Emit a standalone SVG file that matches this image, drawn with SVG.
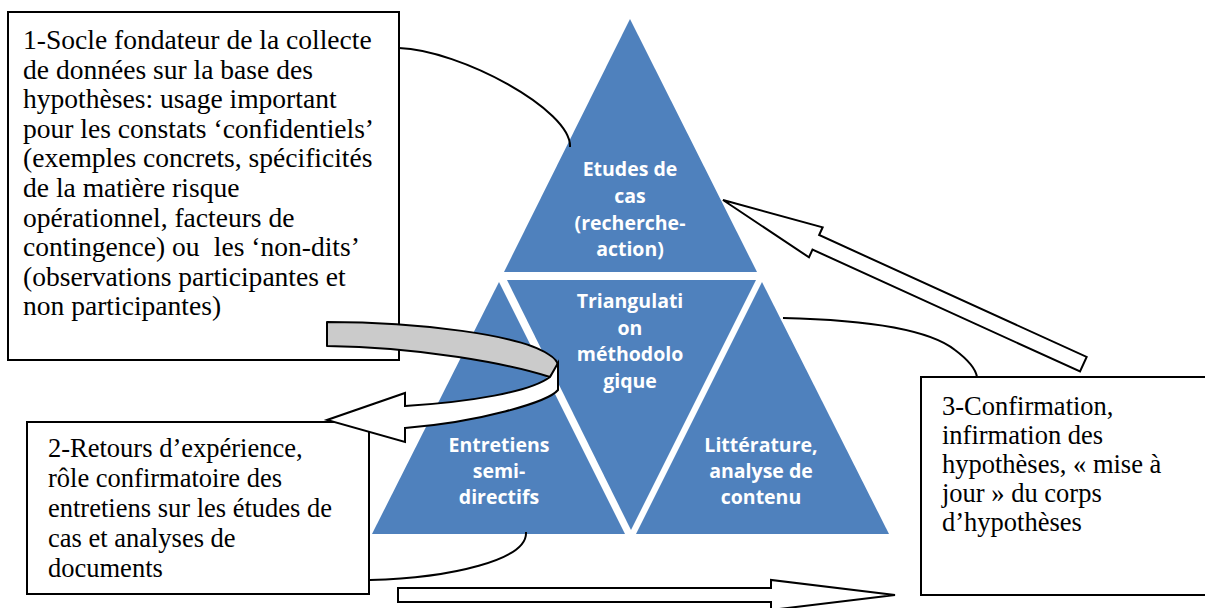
<svg xmlns="http://www.w3.org/2000/svg" width="1205" height="608" viewBox="0 0 1205 608">
<style>
.box{fill:#fff;stroke:#000;stroke-width:2}
.bt{font-family:"Liberation Serif","Times New Roman",serif;fill:#000;font-size:26.5px}
.tri{fill:#4F81BD}
.tt{font-family:"Open Sans","Liberation Sans",sans-serif;font-weight:700;font-size:19.5px;fill:#fff;text-anchor:middle}
.con{fill:none;stroke:#000;stroke-width:2}
.blk{fill:#fff;stroke:#000;stroke-width:2;stroke-linejoin:miter}
</style>
<rect width="1205" height="608" fill="#fff"/>
<g id="box1">
<rect class="box" x="8" y="12" width="391" height="348"/>
<g transform="translate(23 0) scale(1.04 1)">
<text class="bt">
<tspan x="0" y="49">1-Socle fondateur de la collecte</tspan>
<tspan x="0" y="78.6">de données sur la base des</tspan>
<tspan x="0" y="108.2">hypothèses: usage important</tspan>
<tspan x="0" y="137.8">pour les constats ‘confidentiels’</tspan>
<tspan x="0" y="167.4">(exemples concrets, spécificités</tspan>
<tspan x="0" y="197">de la matière risque</tspan>
<tspan x="0" y="226.6">opérationnel, facteurs de</tspan>
<tspan x="0" y="256.2">contingence) ou <tspan dx="7">les ‘non-dits’</tspan></tspan>
<tspan x="0" y="285.8">(observations participantes et</tspan>
<tspan x="0" y="315.4">non participantes)</tspan>
</text>
</g>
</g>
<g id="box2">
<rect class="box" x="27" y="422" width="342" height="172"/>
<text class="bt">
<tspan x="48" y="457">2-Retours d’expérience,</tspan>
<tspan x="48" y="487">rôle confirmatoire des</tspan>
<tspan x="48" y="517">entretiens sur les études de</tspan>
<tspan x="48" y="547">cas et analyses de</tspan>
<tspan x="48" y="577">documents</tspan>
</text>
</g>
<g id="box3">
<rect class="box" x="921" y="377" width="300" height="218"/>
<text class="bt">
<tspan x="942" y="415">3-Confirmation,</tspan>
<tspan x="942" y="444">infirmation des</tspan>
<tspan x="942" y="473">hypothèses, « mise à</tspan>
<tspan x="942" y="502">jour » du corps</tspan>
<tspan x="942" y="531">d’hypothèses</tspan>
</text>
</g>
<g id="tri-top">
<polygon class="tri" points="630,19 504,272 757,272"/>
<text class="tt"><tspan x="630" y="176">Etudes de</tspan><tspan x="630" y="203">cas</tspan><tspan x="630" y="230">(recherche-</tspan><tspan x="630" y="256">action)</tspan></text>
</g>
<g id="tri-center">
<polygon class="tri" points="507,280 756,280 631,530"/>
<text class="tt"><tspan x="630" y="308">Triangulati</tspan><tspan x="630" y="334.5">on</tspan><tspan x="630" y="361">méthodolo</tspan><tspan x="630" y="387.5">gique</tspan></text>
</g>
<g id="tri-left">
<polygon class="tri" points="499,282 372,534 625,534"/>
<text class="tt"><tspan x="499" y="452">Entretiens</tspan><tspan x="499" y="478">semi-</tspan><tspan x="499" y="504">directifs</tspan></text>
</g>
<g id="tri-right">
<polygon class="tri" points="762,282 636,534 889,534"/>
<text class="tt"><tspan x="761" y="452">Littérature,</tspan><tspan x="761" y="478">analyse de</tspan><tspan x="761" y="504">contenu</tspan></text>
</g>
<g id="connectors">
<path class="con" d="M399,48 C460,50 572,110 570,147"/>
<path class="con" d="M783,318 C870,320 930,330 955,350 Q975,365 977,377"/>
<path class="con" d="M370,580 C450,578 528,560 526,532"/>
<path class="blk" d="M0,0 L102,-16.5 L102,-8 L396,-8 L396,8 L102,8 L102,16.5 Z" transform="translate(723,200) rotate(24.5)"/>
<path class="blk" d="M398,588 L771,588 L771,580 L895,595 L771,610 L771,602 L398,602 Z"/>
<path d="M327,322 C420,322 520,335 548,354 Q558,360 558,366 L550,377 C510,364 420,347 327,346 Z" fill="#CBCBCB" stroke="#000" stroke-width="2" stroke-linejoin="round"/>
<path class="blk" d="M558,363 L558,390 C548,402 480,422 405,428 L405,442 L327,420 L405,393 L405,406 C470,402 530,392 550,377 Z"/>
</g>
</svg>
